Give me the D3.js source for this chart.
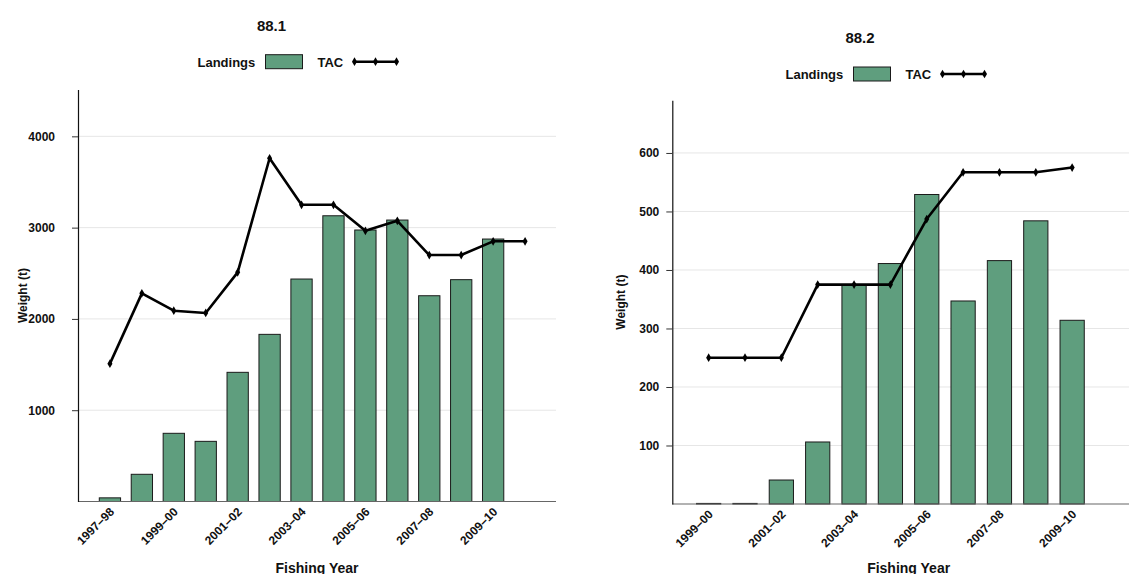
<!DOCTYPE html>
<html>
<head>
<meta charset="utf-8">
<script src="https://cdn.jsdelivr.net/npm/d3@7"></script>
<style>
  html, body { margin: 0; padding: 0; background: #fff; }
  svg { display: block; font-family: "Liberation Sans", Arial, Helvetica, sans-serif; }
  text { fill: #111; font-weight: bold; }
</style>
</head>
<body>
<svg id="chart" width="1129" height="574"></svg>
<script>
// ---- Subarea 88.1 ----
const yearsA = ["1997–98", "1998–99", "1999–00", "2000–01", "2001–02", "2002–03", "2003–04",
                "2004–05", "2005–06", "2006–07", "2007–08", "2008–09", "2009–10", "2010–11"];
const landingsA = [40, 298, 747, 659, 1415, 1831, 2437, 3130, 2974, 3083, 2254, 2430, 2875, null];
const tacA = [1510, 2280, 2090, 2065, 2510, 3760, 3250, 3250, 2965, 3075, 2700, 2700, 2850, 2850];
const yTicksA = [1000, 2000, 3000, 4000];
const xLabelsA = ["1997–98", "1999–00", "2001–02", "2003–04", "2005–06", "2007–08", "2009–10"];

// ---- Subarea 88.2 ----
const yearsB = ["1999–00", "2000–01", "2001–02", "2002–03", "2003–04", "2004–05",
                "2005–06", "2006–07", "2007–08", "2008–09", "2009–10"];
const landingsB = [1, 1, 41, 106, 375, 411, 529, 347, 416, 484, 314];
const tacB = [250, 250, 250, 375, 375, 375, 487, 567, 567, 567, 575];
const yTicksB = [100, 200, 300, 400, 500, 600];
const xLabelsB = ["1999–00", "2001–02", "2003–04", "2005–06", "2007–08", "2009–10"];

const legendLabels = ["Landings", "TAC"];
const axisTitleX = "Fishing Year";
const axisTitleY = "Weight (t)";

const BAR_FILL = "#5f9e7e";
const svg = d3.select("#chart");

function drawPanel(p) {
  const g = svg.append("g");

  const x = d3.scaleBand()
    .domain(p.years)
    .range([p.left, p.bandRight])
    .paddingInner(1 / 3)
    .paddingOuter(2 / 3);

  const y = d3.scaleLinear()
    .domain([0, d3.max(p.tac) * 1.2])
    .range([p.bottom, p.top]);

  // horizontal gridlines
  g.append("g").selectAll("line")
    .data(p.yTicks)
    .join("line")
    .attr("x1", p.left).attr("x2", p.axisRight)
    .attr("y1", d => y(d)).attr("y2", d => y(d))
    .attr("stroke", "#e6e6e6").attr("stroke-width", 1);

  // landings bars
  g.append("g").selectAll("rect")
    .data(p.years.map((yr, i) => ({ yr, v: p.landings[i] })).filter(d => d.v != null))
    .join("rect")
    .attr("x", d => x(d.yr))
    .attr("width", x.bandwidth())
    .attr("y", d => y(d.v))
    .attr("height", d => p.bottom - y(d.v))
    .attr("fill", BAR_FILL)
    .attr("stroke", "#1a1a1a")
    .attr("stroke-width", 1);

  // x axis line
  g.append("line")
    .attr("x1", p.left).attr("x2", p.axisRight)
    .attr("y1", p.bottom).attr("y2", p.bottom)
    .attr("stroke", "#666").attr("stroke-width", 1.2);

  // x axis labels
  const xAxis = d3.axisBottom(x).tickValues(p.xLabels).tickSize(0);
  const xg = g.append("g").attr("transform", `translate(0,${p.bottom})`).call(xAxis);
  xg.select(".domain").remove();
  xg.selectAll("text")
    .attr("x", 0).attr("y", 0).attr("dy", 0)
    .attr("text-anchor", "end")
    .attr("transform", "translate(5,11) rotate(-45)")
    .style("font-size", "12px")
    .style("font-weight", "bold")
    .style("font-family", "'Liberation Sans', Arial, sans-serif")
    .attr("fill", "#111");

  // y axis
  const yAxis = d3.axisLeft(y).tickValues(p.yTicks).tickSize(6).tickSizeOuter(0)
    .tickPadding(p.tickPad).tickFormat(d3.format("d"));
  const yg = g.append("g").attr("transform", `translate(${p.left},0)`).call(yAxis);
  yg.select(".domain").attr("stroke", "#111").attr("stroke-width", 1.2);
  yg.selectAll(".tick line").attr("stroke", "#333");
  yg.selectAll("text")
    .style("font-size", "12px")
    .style("font-weight", "bold")
    .style("font-family", "'Liberation Sans', Arial, sans-serif")
    .attr("fill", "#111");

  // TAC line
  const cx = d => x(d) + x.bandwidth() / 2;
  const pts = p.years.map((yr, i) => [cx(yr), y(p.tac[i])]);
  g.append("path")
    .attr("d", d3.line()(pts))
    .attr("fill", "none")
    .attr("stroke", "#000")
    .attr("stroke-width", 2.6)
    .attr("stroke-linejoin", "round");
  g.append("g").selectAll("path")
    .data(pts)
    .join("path")
    .attr("transform", d => `translate(${d[0]},${d[1]})`)
    .attr("d", d3.symbol().type(d3.symbolDiamond).size(22))
    .attr("fill", "#000");

  // titles
  g.append("text")
    .attr("x", p.titleX).attr("y", p.titleY)
    .attr("text-anchor", "middle")
    .style("font-size", "15px")
    .text(p.title);

  g.append("text")
    .attr("x", (p.left + p.axisRight) / 2).attr("y", 572.5)
    .attr("text-anchor", "middle")
    .style("font-size", "14px")
    .text(axisTitleX);

  g.append("text")
    .attr("transform", `translate(${p.yTitleX},${(p.top + p.bottom) / 2}) rotate(-90)`)
    .attr("text-anchor", "middle")
    .style("font-size", "12px")
    .text(axisTitleY);

  // legend
  const lg = g.append("g").attr("transform", `translate(${p.legendX},${p.legendY})`);
  lg.append("text").attr("x", 0).attr("y", 5).style("font-size", "13px").text(legendLabels[0]);
  lg.append("rect").attr("x", 68).attr("y", -7).attr("width", 37).attr("height", 14)
    .attr("fill", BAR_FILL).attr("stroke", "#1a1a1a").attr("stroke-width", 1);
  lg.append("text").attr("x", 120).attr("y", 5).style("font-size", "13px").text(legendLabels[1]);
  lg.append("line").attr("x1", 157).attr("x2", 199).attr("y1", 0).attr("y2", 0)
    .attr("stroke", "#000").attr("stroke-width", 2.6);
  lg.append("g").selectAll("path")
    .data([157, 178, 199])
    .join("path")
    .attr("transform", d => `translate(${d},0)`)
    .attr("d", d3.symbol().type(d3.symbolDiamond).size(22))
    .attr("fill", "#000");
}

drawPanel({
  title: "88.1", years: yearsA, landings: landingsA, tac: tacA,
  yTicks: yTicksA, xLabels: xLabelsA,
  left: 78, bandRight: 557, axisRight: 556, top: 89.6, bottom: 501.5,
  tickPad: 17, titleX: 271.5, titleY: 31, yTitleX: 27,
  legendX: 197.5, legendY: 61.7
});

drawPanel({
  title: "88.2", years: yearsB, landings: landingsB, tac: tacB,
  yTicks: yTicksB, xLabels: xLabelsB,
  left: 672.3, bandRight: 1108.5, axisRight: 1145, top: 100.3, bottom: 504,
  tickPad: 7, titleX: 860, titleY: 43.3, yTitleX: 625,
  legendX: 785.5, legendY: 74
});
</script>
</body>
</html>
